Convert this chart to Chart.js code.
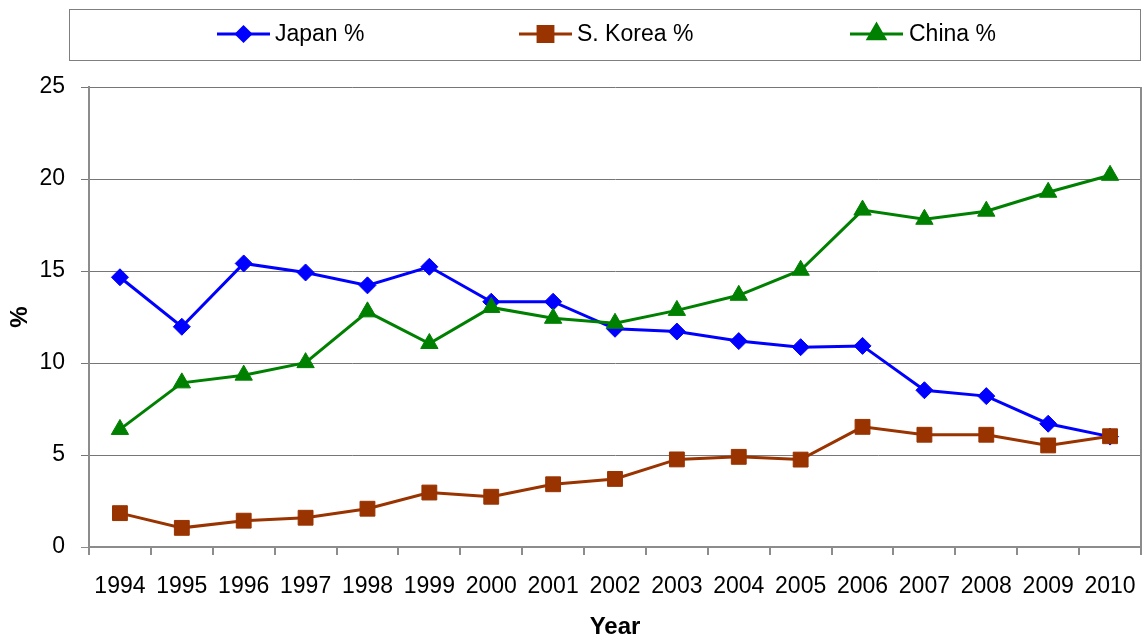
<!DOCTYPE html>
<html>
<head>
<meta charset="utf-8">
<script src="https://cdn.jsdelivr.net/npm/chart.js@4"></script>
<style>
html,body{margin:0;padding:0;background:#fff;}
#wrap{width:1147px;height:642px;}
</style>
</head>
<body>
<div id="wrap"><canvas id="c" width="1147" height="642"></canvas></div>
<script>
const years = ['1994','1995','1996','1997','1998','1999','2000','2001','2002','2003','2004','2005','2006','2007','2008','2009','2010'];
const japan = [14.66,11.97,15.41,14.92,14.22,15.23,13.33,13.33,11.86,11.71,11.19,10.86,10.93,8.52,8.2,6.7,6.0];
const korea = [1.84,1.04,1.43,1.59,2.08,2.96,2.73,3.41,3.7,4.76,4.9,4.75,6.53,6.1,6.1,5.52,6.02];
const china = [6.39,8.92,9.34,10.02,12.78,11.06,13.02,12.43,12.16,12.86,13.68,15.04,18.31,17.81,18.25,19.28,20.2];
const yTicks = [0,5,10,15,20,25];
const seriesNames = ['Japan %','S. Korea %','China %'];

const FONT = "'Liberation Sans', Arial, sans-serif";
const AXIS_GREY = '#8c8c8c';
const GRID_GREY = '#767676';

const legendItems = [
  {name: seriesNames[0], color:'#0000FF', style:'rectRot', r:7, x0:217, x1:270, tx:275},
  {name: seriesNames[1], color:'#993300', style:'rect', r:10.5, x0:519, x1:572, tx:577},
  {name: seriesNames[2], color:'#008000', style:'triangle', r:9.5, x0:850, x1:903, tx:909}
];

const decor = {
  id:'decor',
  afterDraw(chart){
    const ctx = chart.ctx;
    const a = chart.chartArea;
    ctx.save();
    ctx.strokeStyle = AXIS_GREY;
    ctx.lineWidth = 2;
    ctx.beginPath();
    ctx.moveTo(a.right, a.top);
    ctx.lineTo(a.right, a.bottom + 1);
    ctx.stroke();
    ctx.strokeStyle = '#7f7f7f';
    ctx.lineWidth = 1;
    ctx.strokeRect(69.5, 9.5, 1071, 51);
    const ly = 34;
    ctx.font = '23px ' + FONT;
    ctx.textBaseline = 'middle';
    ctx.textAlign = 'left';
    legendItems.forEach(it => {
      ctx.strokeStyle = it.color;
      ctx.lineWidth = 3;
      ctx.beginPath();
      ctx.moveTo(it.x0, ly);
      ctx.lineTo(it.x1, ly);
      ctx.stroke();
      ctx.fillStyle = it.color;
      Chart.helpers.drawPoint(ctx, {pointStyle: it.style, radius: it.r, borderWidth: 1, rotation: 0}, (it.x0+it.x1)/2, ly);
      ctx.fillStyle = '#000';
      ctx.fillText(it.name, it.tx, ly + 1);
    });
    ctx.restore();
  }
};

new Chart(document.getElementById('c'), {
  type: 'line',
  data: {
    labels: years,
    datasets: [
      {label: seriesNames[0], data: japan, borderColor:'#0000FF', backgroundColor:'#0000FF', pointStyle:'rectRot', pointRadius:8.5, pointBorderWidth:1, borderWidth:3, tension:0, order:2, clip:false},
      {label: seriesNames[1], data: korea, borderColor:'#993300', backgroundColor:'#993300', pointStyle:'rect', pointRadius:10.5, pointBorderWidth:1, borderWidth:3, tension:0, order:1, clip:false},
      {label: seriesNames[2], data: china, borderColor:'#008000', backgroundColor:'#008000', pointStyle:'triangle', pointRadius:10, pointBorderWidth:1, borderWidth:3, tension:0, order:0, clip:false}
    ]
  },
  options: {
    responsive: false,
    animation: false,
    events: [],
    layout: {autoPadding: false, padding: {top: 87, right: 6, left: 0, bottom: 0}},
    plugins: {legend: {display:false}, tooltip: {enabled:false}},
    scales: {
      x: {
        type: 'category',
        offset: true,
        grid: {display:true, drawOnChartArea:false, drawTicks:true, tickLength:8, offset:true, color:AXIS_GREY, lineWidth:2},
        border: {display:true, color:AXIS_GREY, width:2},
        ticks: {color:'#000', font:{family:FONT, size:23}, padding:18, maxRotation:0, autoSkip:false},
        title: {display:true, text:'Year', color:'#000', font:{family:FONT, size:24, weight:'bold'}, padding:{top:0,bottom:0}},
        afterFit(s){ s.height = 95; s.paddingLeft = 0; s.paddingRight = 0; }
      },
      y: {
        min: 0, max: 25,
        afterBuildTicks(s){ s.ticks = yTicks.map(v => ({value:v})); },
        grid: {display:true, drawOnChartArea:true, drawTicks:true, tickLength:8, color: ctx => ctx.tick && ctx.tick.value === 0 ? AXIS_GREY : GRID_GREY, lineWidth:1},
        border: {display:true, color:AXIS_GREY, width:2},
        ticks: {color:'#000', font:{family:FONT, size:23}, padding:16},
        title: {display:true, text:'%', color:'#000', font:{family:FONT, size:24, weight:'bold'}, padding:{top:6,bottom:6}},
        afterFit(s){ s.width = 89; s.paddingTop = 0; s.paddingBottom = 0; }
      }
    }
  },
  plugins: [decor]
});
</script>
</body>
</html>
